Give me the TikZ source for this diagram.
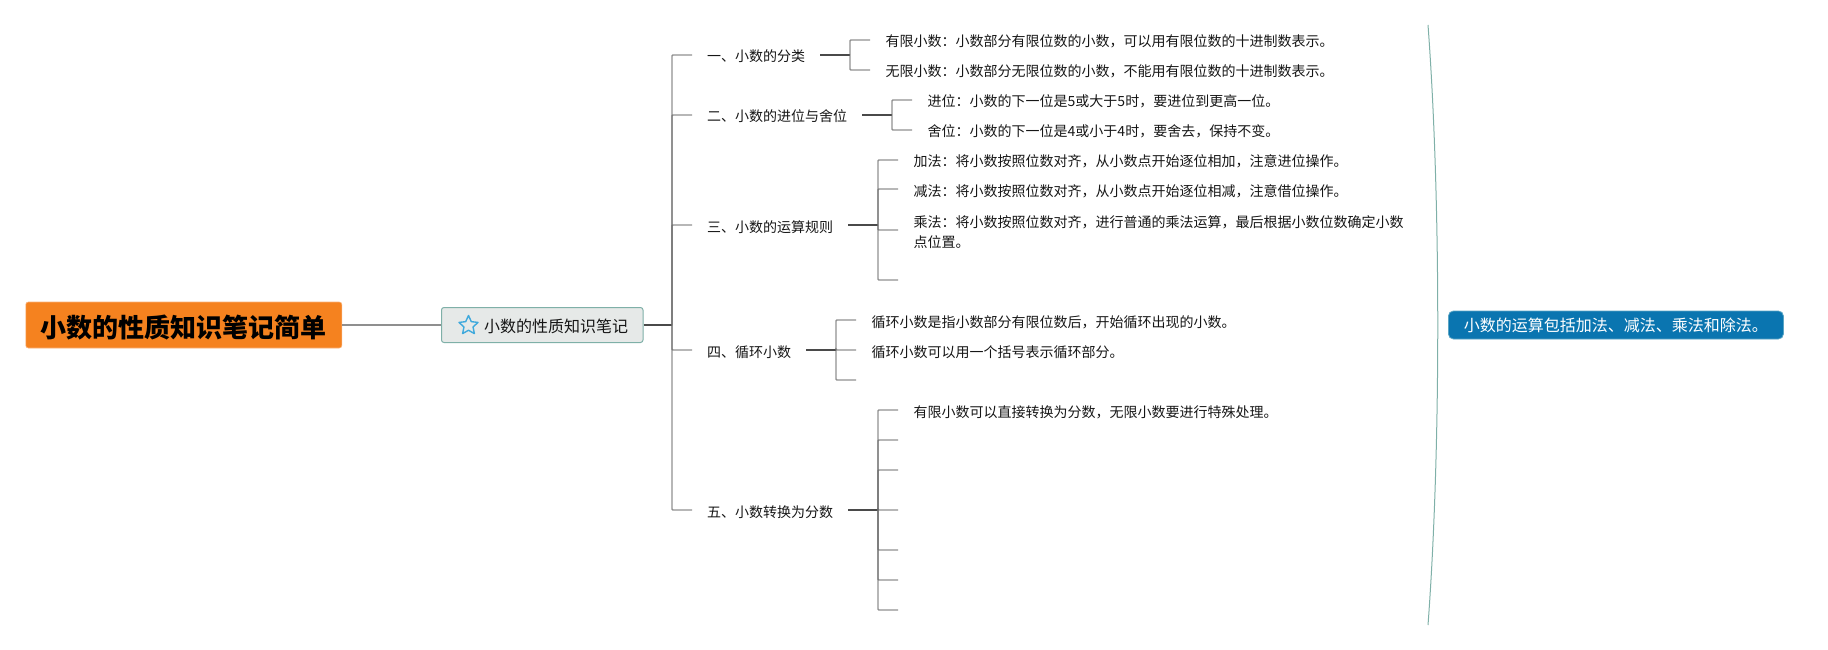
\documentclass[tikz,border=0pt]{standalone}
\usepackage{fontspec}
\setmainfont{Noto Sans CJK SC}
\usetikzlibrary{shapes.geometric}
\definecolor{linegray}{HTML}{6A6A6A}
\definecolor{tealline}{HTML}{7FB0A8}
\definecolor{titleorange}{HTML}{F5821F}
\definecolor{titleedge}{HTML}{F9B27A}
\definecolor{topicfill}{HTML}{E6E9E8}
\definecolor{bluefill}{HTML}{0A75B0}
\definecolor{blueedge}{HTML}{5AA5C4}
\definecolor{starblue}{HTML}{3FA9DC}
\definecolor{inktext}{HTML}{161616}
\tikzset{
  conn/.style={draw=linegray,opacity=.75,line width=1.4pt,rounded corners=.8pt},
  trunk/.style={draw=linegray!70!black,line width=1.5pt},
  titlebox/.style={anchor=west,fill=titleorange,draw=titleedge,line width=.6pt,rounded corners=2.5pt,
    minimum height=46pt,inner xsep=15pt,inner ysep=0pt,text height=26pt,text depth=1pt,
    font=\fontsize{26}{30}\selectfont\bfseries,text=black},
  topicbox/.style={anchor=west,fill=topicfill,draw=tealline,line width=1pt,rounded corners=2.5pt,
    minimum height=35pt,inner xsep=15pt,inner ysep=0pt,text height=16pt,text depth=1.4pt,
    font=\fontsize{16}{20}\selectfont,text=inktext},
  sumbox/.style={anchor=west,fill=bluefill,draw=blueedge,line width=.8pt,rounded corners=5pt,
    minimum height=28pt,inner xsep=15.5pt,inner ysep=0pt,font=\fontsize{16}{20}\selectfont,text=white},
  subitem/.style={anchor=west,inner xsep=15pt,inner ysep=0pt,text height=15pt,text depth=1pt,
    font=\fontsize{14}{20}\selectfont,text=inktext},
  leafitem/.style={anchor=west,inner xsep=15.5pt,inner ysep=0pt,text height=15pt,text depth=1pt,
    font=\fontsize{14}{20}\selectfont,text=inktext},
  wrapleaf/.style={anchor=west,inner xsep=15.5pt,inner ysep=0pt,align=left,
    font=\fontsize{14}{20}\selectfont,text=inktext},
  starmark/.style={star,star points=5,star point ratio=2.1,draw=starblue,line width=1.4pt,
    minimum size=20pt,inner sep=0pt,line join=round},
  sumcurve/.style={draw=tealline,line width=1pt}
}
\begin{document}
\begin{tikzpicture}[x=1pt,y=-1pt]
\useasboundingbox (0,0) rectangle (1828,650);
% main nodes
\node[titlebox] (root) at (25.5,325) {小数的性质知识笔记简单};
\node[topicbox] (main) at (441,325) {\hspace*{27.5pt}小数的性质知识笔记};
\node[starmark] (mainstar) at (468.5,325.5) {};
\draw[conn] (root.east) -- (main.west);
% first level
\coordinate (j0) at (672,325);
\node[subitem] (s1) at (692,55)  {一、小数的分类};
\node[subitem] (s2) at (692,115) {二、小数的进位与舍位};
\node[subitem] (s3) at (692,225) {三、小数的运算规则};
\node[subitem] (s4) at (692,350) {四、循环小数};
\node[subitem] (s5) at (692,510) {五、小数转换为分数};
\draw[trunk] (main.east) -- (j0);
\foreach \n in {s1,s2,s3,s4,s5} \draw[conn] (j0) |- (\n.west);
% branch 1
\coordinate (j1) at (850,55);
\node[leafitem] (l11) at (870,40) {有限小数：小数部分有限位数的小数，可以用有限位数的十进制数表示。};
\node[leafitem] (l12) at (870,70) {无限小数：小数部分无限位数的小数，不能用有限位数的十进制数表示。};
\draw[trunk] (s1.east) -- (j1);
\foreach \n in {l11,l12} \draw[conn] (j1) |- (\n.west);
% branch 2
\coordinate (j2) at (892,115);
\node[leafitem] (l21) at (912,100) {进位：小数的下一位是5或大于5时，要进位到更高一位。};
\node[leafitem] (l22) at (912,130) {舍位：小数的下一位是4或小于4时，要舍去，保持不变。};
\draw[trunk] (s2.east) -- (j2);
\foreach \n in {l21,l22} \draw[conn] (j2) |- (\n.west);
% branch 3
\coordinate (j3) at (878,225);
\node[leafitem] (l31) at (898,160) {加法：将小数按照位数对齐，从小数点开始逐位相加，注意进位操作。};
\node[leafitem] (l32) at (898,189) {减法：将小数按照位数对齐，从小数点开始逐位相减，注意借位操作。};
\node[wrapleaf] (l33) at (898,232) {乘法：将小数按照位数对齐，进行普通的乘法运算，最后根据小数位数确定小数\\点位置。};
\coordinate (l34) at (898,280);
\draw[trunk] (s3.east) -- (j3);
\foreach \n in {l31,l32} \draw[conn] (j3) |- (\n.west);
\draw[conn] (j3) |- ([yshift=2pt]l33.west);
\draw[conn] (j3) |- (l34);
% branch 4
\coordinate (j4) at (836,350);
\node[leafitem] (l41) at (856,320) {循环小数是指小数部分有限位数后，开始循环出现的小数。};
\node[leafitem] (l42) at (856,350) {循环小数可以用一个括号表示循环部分。};
\coordinate (l43) at (856,380);
\draw[trunk] (s4.east) -- (j4);
\foreach \n in {l41,l42} \draw[conn] (j4) |- (\n.west);
\draw[conn] (j4) |- (l43);
% branch 5
\coordinate (j5) at (878,510);
\node[leafitem] (l51) at (898,410) {有限小数可以直接转换为分数，无限小数要进行特殊处理。};
\coordinate (l52) at (898,440);
\coordinate (l53) at (898,470);
\coordinate (l54) at (898,510);
\coordinate (l55) at (898,550);
\coordinate (l56) at (898,580);
\coordinate (l57) at (898,610);
\draw[trunk] (s5.east) -- (j5);
\draw[conn] (j5) |- (l51.west);
\foreach \n in {l52,l53,l54,l55,l56,l57} \draw[conn] (j5) |- (\n);
% summary
\coordinate (c1) at (1428,25);
\coordinate (c2) at (1428,625);
\draw[sumcurve] (c1) .. controls (1441,200) and (1441,450) .. (c2);
\node[sumbox] (sum) at (1448,325) {小数的运算包括加法、减法、乘法和除法。};
\end{tikzpicture}
\end{document}
